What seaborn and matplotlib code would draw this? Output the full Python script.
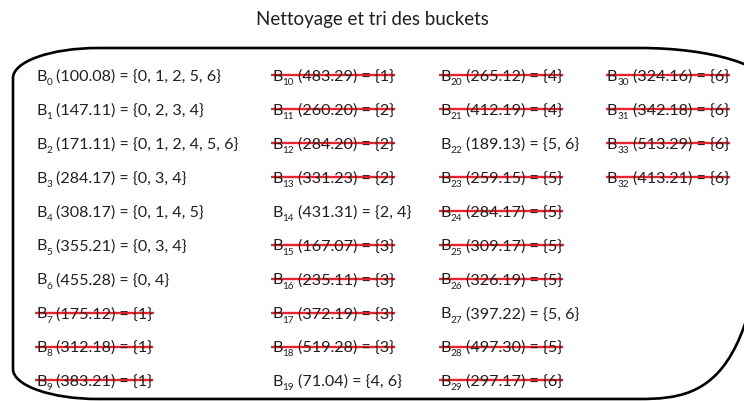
import numpy as np
import matplotlib.pyplot as plt
from matplotlib.path import Path
from matplotlib.patches import PathPatch
import seaborn as sns

# Data: buckets laid out column by column (10 per column)
title = "Nettoyage et tri des buckets"
bucket_ids = [0, 1, 2, 3, 4, 5, 6, 7, 8, 9,
              10, 11, 12, 13, 14, 15, 16, 17, 18, 19,
              20, 21, 22, 23, 24, 25, 26, 27, 28, 29,
              30, 31, 33, 32]
bucket_costs = ["100.08", "147.11", "171.11", "284.17", "308.17", "355.21", "455.28", "175.12", "312.18", "383.21",
                "483.29", "260.20", "284.20", "331.23", "431.31", "167.07", "235.11", "372.19", "519.28", "71.04",
                "265.12", "412.19", "189.13", "259.15", "284.17", "309.17", "326.19", "397.22", "497.30", "297.17",
                "324.16", "342.18", "513.29", "413.21"]
bucket_sets = [[0, 1, 2, 5, 6], [0, 2, 3, 4], [0, 1, 2, 4, 5, 6], [0, 3, 4], [0, 1, 4, 5], [0, 3, 4], [0, 4], [1], [1], [1],
               [1], [2], [2], [2], [2, 4], [3], [3], [3], [3], [4, 6],
               [4], [4], [5, 6], [5], [5], [5], [5], [5, 6], [5], [6],
               [6], [6], [6], [6]]
kept = [1, 1, 1, 1, 1, 1, 1, 0, 0, 0,
        0, 0, 0, 0, 1, 0, 0, 0, 0, 1,
        0, 0, 1, 0, 0, 0, 0, 1, 0, 0,
        0, 0, 0, 0]

# Layout (pixels)
W, H = 744, 401
col_x = [36, 272, 440, 607]
row0_base, row_step = 81, 33.9
fs = 11.6
ink = "#231f20"
red = "#e8232b"

sns.set_theme(style="white")
plt.rcParams["font.family"] = ["Lato", "DejaVu Sans"]

fig = plt.figure(figsize=(W / 100, H / 100), dpi=100)
ax = fig.add_axes([0, 0, 1, 1])
ax.set_xlim(0, W)
ax.set_ylim(H, 0)
ax.axis("off")

ax.text(W / 2, 20, title, ha="center", va="center", fontsize=13.5, color=ink)


def corner(cx, cy, rx, ry, a0, a1):
    # cubic bezier approximation of a quarter ellipse
    k = 0.5523
    p0 = (cx + rx * np.cos(a0), cy + ry * np.sin(a0))
    p3 = (cx + rx * np.cos(a1), cy + ry * np.sin(a1))
    d = 1 if a1 > a0 else -1
    t0 = (-np.sin(a0) * d, np.cos(a0) * d)
    t1 = (-np.sin(a1) * d, np.cos(a1) * d)
    p1 = (p0[0] + k * rx * t0[0], p0[1] + k * ry * t0[1])
    p2 = (p3[0] - k * rx * t1[0], p3[1] - k * ry * t1[1])
    return [p1, p2, p3]


# rounded frame (right side runs off the picture)
L, T, R, B = 13, 48, 770, 399
lrx, lry, rrx, rry = 85, 30, 130, 40
h = np.pi / 2
verts = [(L + lrx, T), (R - rrx, T)]
verts += corner(R - rrx, T + rry, rrx, rry, -h, 0)
verts += [(R, B - rry)]
verts += corner(R - rrx, B - rry, rrx, rry, 0, h)
verts += [(L + lrx, B)]
verts += corner(L + lrx, B - lry, lrx, lry, h, np.pi)
verts += [(L, T + lry)]
verts += corner(L + lrx, T + lry, lrx, lry, np.pi, 1.5 * np.pi)
codes = [Path.MOVETO, Path.LINETO] + [Path.CURVE4] * 3 + [Path.LINETO] + [Path.CURVE4] * 3 \
    + [Path.LINETO] + [Path.CURVE4] * 3 + [Path.LINETO] + [Path.CURVE4] * 3
ax.add_patch(PathPatch(Path(verts, codes), fill=False, lw=1.9, edgecolor="black"))

fig.canvas.draw()
renderer = fig.canvas.get_renderer()
inv = ax.transData.inverted()


def right_edge(t):
    bb = t.get_window_extent(renderer)
    return inv.transform((bb.x1, bb.y0))[0]


for i, (bid, cost, s) in enumerate(zip(bucket_ids, bucket_costs, bucket_sets)):
    col, row = divmod(i, 10)
    x0 = col_x[col]
    yb = row0_base + row * row_step
    tb = ax.text(x0, yb, "B", ha="left", va="baseline", fontsize=fs, color=ink)
    ts = ax.text(right_edge(tb) + 0.3, yb + 4.3, str(bid), ha="left", va="baseline",
                 fontsize=fs * 0.62, color=ink)
    rest = "(%s) = {%s}" % (cost, ", ".join(str(v) for v in s))
    tr = ax.text(right_edge(ts) + 3.5, yb, rest, ha="left", va="baseline", fontsize=fs, color=ink)
    if not kept[i]:
        x1 = right_edge(tr)
        ax.plot([x0 - 1, x1 + 1.5], [yb - 5.6, yb - 5.6], color=red, lw=1.7,
                solid_capstyle="butt")

fig.savefig("out.png", dpi=100)
